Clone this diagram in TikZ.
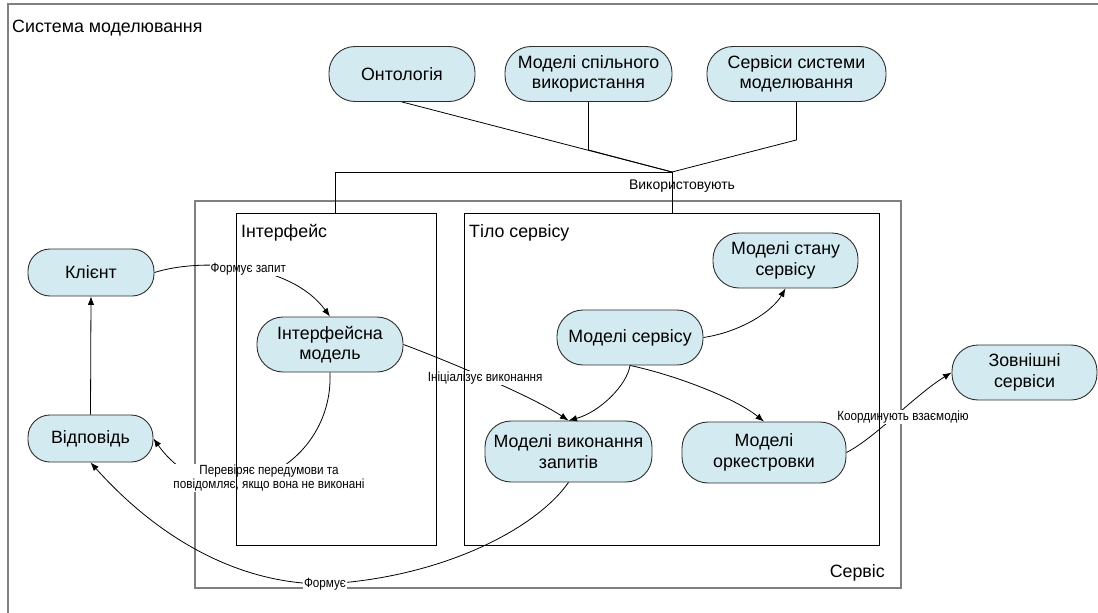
\documentclass[tikz,border=0pt]{standalone}
\usepackage{fontspec}
\setmainfont{Liberation Sans}
\newfontfamily\lblfont[FakeStretch=0.88]{Liberation Sans}
\usetikzlibrary{arrows.meta,calc}
\definecolor{procfill}{HTML}{D3EAF0}
\definecolor{procline}{HTML}{2E2E2E}
\definecolor{framegray}{HTML}{808080}
\begin{document}
\begin{tikzpicture}[x=1pt,y=1pt,
  proc/.style={draw=procline, fill=procfill, line width=0.9pt, rounded corners=26pt,
    minimum height=55pt, align=center, inner sep=0pt,
    font=\fontsize{17.8}{20.5}\selectfont},
  smallproc/.style={proc, rounded corners=22pt, minimum height=47pt},
  tallproc/.style={proc, minimum height=61pt},
  grp/.style={inner sep=0pt, font=\fontsize{17.8}{20.5}\selectfont},
  outerbox/.style={draw=framegray, line width=1.6pt},
  innerbox/.style={draw=black, line width=0.9pt, inner sep=0pt},
  conn/.style={draw=black, line width=0.8pt},
  arr/.style={conn, -{Latex[length=8.5pt,width=6.5pt]}},
  lbl/.style={fill=white, inner sep=1pt, align=center,
    font=\lblfont\fontsize{13.3}{14.2}\selectfont},
  uselbl/.style={inner sep=0pt, font=\fontsize{14}{16}\selectfont}]

\useasboundingbox (0,0) rectangle (1098,-613);
\clip (0,0) rectangle (1098,-613);

% system frame (runs off the page to the right and bottom)
\draw[outerbox] (8,-4) rectangle (1200,-700);
\node[grp, anchor=base west] (tsys) at (12,-32) {Система моделювання};

% service container
\node[outerbox, minimum width=706pt, minimum height=387pt, anchor=north west, inner sep=0pt] (srv) at (194,-200) {};
\node[grp, anchor=base east] (tsrv) at (885,-577) {Сервіс};

% shared resources
\node[proc, minimum width=146pt] (ont) at (402,-74) {Онтологія};
\node[proc, minimum width=167pt] (msp) at (588.5,-74) {Моделі спільного\\використання};
\node[proc, minimum width=179pt] (sss) at (796.5,-74) {Сервіси системи\\моделювання};

% client side
\node[smallproc, minimum width=126pt] (kl) at (91,-272.5) {Клієнт};
\node[smallproc, minimum width=125pt] (otv) at (90.5,-438.5) {Відповідь};

% service parts
\node[proc, minimum width=146pt] (im) at (330,-344.5) {Інтерфейсна\\модель};
\node[proc, minimum width=145pt] (mst) at (785.5,-260.5) {Моделі стану\\сервісу};
\node[proc, minimum width=146pt] (ms) at (630,-337.5) {Моделі сервісу};
\node[tallproc, minimum width=167pt] (mv) at (568.5,-451.5) {Моделі виконання\\запитів};
\node[tallproc, minimum width=164pt] (mo) at (764,-452.5) {Моделі\\оркестровки};
\node[proc, minimum width=145pt] (zs) at (1024.5,-372.5) {Зовнішні\\сервіси};

% "uses" links from the shared resources
\coordinate (jn) at (672,-172);
\draw[conn] (ont.south) -- (jn);
\draw[conn] (msp.south) -- ++(0,-48) -- (jn);
\draw[conn] (sss.south) -- ++(0,-38) -- (jn);
\node[uselbl] (uses) at (682,-186) {Використовують};

% client / response
\draw[arr] (otv.north) -- (kl.south);
\draw[arr] (kl.east) .. controls (200,-258) and (290,-262) .. (im.north)
  node[lbl, pos=0.52] {Формує запит};
\draw[arr] (im.east) .. controls (440,-358) and (530,-395) .. (mv.north)
  node[lbl, pos=0.5] {Ініціалізує виконання};
\draw[arr] (im.south) .. controls (334,-470) and (215,-525) .. (otv.east)
  node[lbl] at (269,-478) {Перевіряє передумови та\\повідомляє, якщо вона не виконані};
\coordinate (fmc) at (325,-584);
\draw[arr] (mv.south) .. controls (535,-530) and (440,-578) .. (fmc)
  .. controls (240,-584) and (160,-540) .. (otv.south);
\node[lbl] (fm) at (fmc) {Формує};

% inside the service body
\draw[arr] (ms.east) .. controls (740,-332) and (772,-312) .. (mst.south);
\draw[arr] (ms.south) .. controls (627,-385) and (600,-412) .. (mv.north);
\draw[arr] (ms.south) .. controls (675,-375) and (735,-398) .. (mo.north);
\draw[arr] (mo.east) .. controls (875,-438) and (915,-395) .. (zs.west);
\node[lbl] (coord) at (903,-417) {Координують взаємодію};

% interface and body compartments
\node[innerbox, minimum width=200pt, minimum height=332pt, anchor=north west] (ifc) at (236,-213) {};
\node[innerbox, minimum width=415pt, minimum height=332pt, anchor=north west] (body) at (464,-213) {};
\node[grp, anchor=base west] (tifc) at (241,-237) {Інтерфейс};
\node[grp, anchor=base west] (tbody) at (469,-237) {Тіло сервісу};

\draw[conn] (jn) -| ($(ifc.north west)+(99,0)$);
\draw[conn] (jn) -- (jn |- body.north);
\end{tikzpicture}
\end{document}
